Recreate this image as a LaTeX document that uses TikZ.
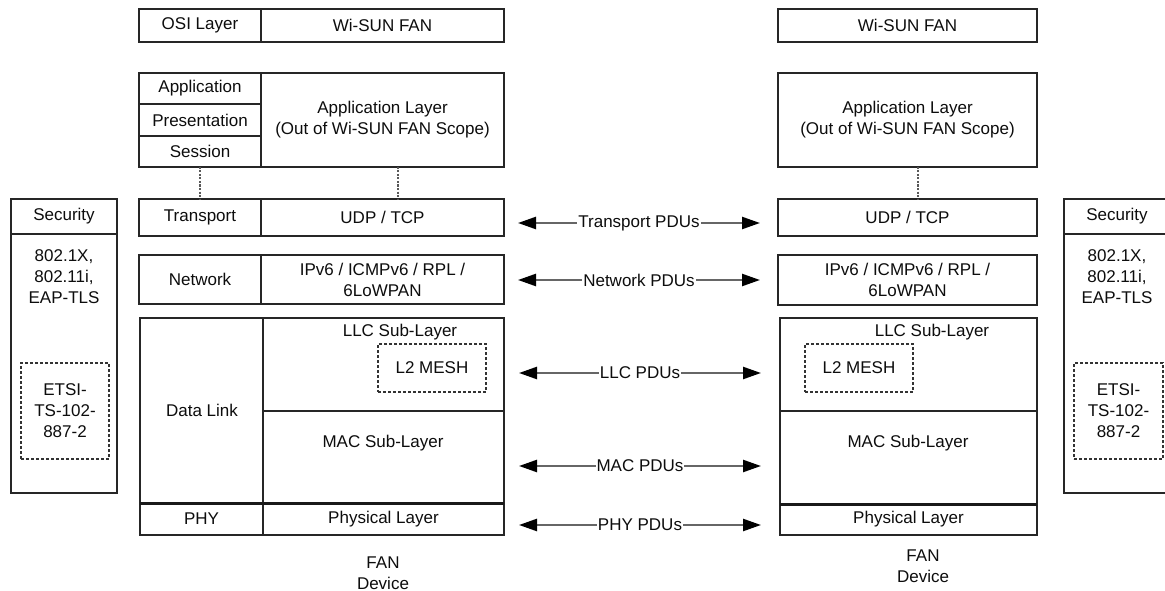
\documentclass[tikz,border=0pt]{standalone}
\usepackage{fontspec}
\setmainfont{Liberation Sans}
\usetikzlibrary{arrows.meta,fit,calc}
\begin{document}
\begin{tikzpicture}[x=1pt,y=-1pt,
  every node/.style={font=\fontsize{17}{21}\selectfont, text=black!95},
  box/.style={draw=black!85, line width=1.6pt, inner sep=0pt, outer sep=0pt},
  dbox/.style={draw=black!80, line width=1.3pt, dash pattern=on 3pt off 2pt, inner sep=0pt, outer sep=0pt},
  txt/.style={align=center, inner sep=0pt},
  lbl/.style={label={[txt]center:{#1}}},
  pdu/.style={draw=black!60, line width=2.4pt, {Triangle[length=18pt,width=12pt,black]}-{Triangle[length=18pt,width=12pt,black]}},
  plabel/.style={fill=white, inner sep=1pt},
  dotline/.style={draw=black!65, line width=1.3pt, dash pattern=on 2pt off 1.5pt},
  thickline/.style={draw=black!90, line width=3pt}
]
\clip (0,0) rectangle (1165,591);
\fill[white] (0,0) rectangle (1165,591);

% ---------- left stack ----------
\node[box, fit={(139,9) (261,42)}, lbl={OSI Layer}] (osi) {};
\node[box, fit={(261,9) (504,42)}, lbl={Wi-SUN FAN}] (wsl) {};
\node[box, fit={(139,73) (261,104)}, lbl={Application}] (appl) {};
\node[box, fit={(139,104) (261,136)}, lbl={Presentation}] (pres) {};
\node[box, fit={(139,136) (261,167)}, lbl={Session}] (sess) {};
\node[box, fit={(261,73) (504,167)}, lbl={Application Layer\\(Out of Wi-SUN FAN Scope)}] (appL) {};
\node[box, fit={(139,199) (261,236)}, lbl={Transport}] (trL) {};
\node[box, fit={(261,199) (504,236)}, lbl={UDP / TCP}] (udpL) {};
\node[box, fit={(139,255) (261,304)}, lbl={Network}] (netL) {};
\node[box, fit={(261,255) (504,304)}, lbl={IPv6 / ICMPv6 / RPL /\\6LoWPAN}] (ipL) {};
\node[box, fit={(140,318) (263,503)}] (dlL) {};
\node[box, fit={(263,318) (504,411)}] (llcL) {};
\node[box, fit={(263,411) (504,503)}] (macL) {};
\node[box, fit={(140,503) (263,535)}, lbl={PHY}] (phyL) {};
\node[box, fit={(263,503) (504,535)}, lbl={Physical Layer}] (physL) {};
\draw[thickline] (dlL.south west) -- (macL.south east);
\node[txt] (dlLt) at (202,410) {Data Link};
\node[txt] (llcLt) at (400,332) {LLC Sub-Layer};
\node[txt] (macLt) at (383,443) {MAC Sub-Layer};
\node[dbox, fit={(378,344) (486,392)}, lbl={L2 MESH}] (meshL) {};
\node[txt] (fanL) at (383,573) {FAN\\Device};

\draw[dotline] (sess.south) -- (trL.north);
\draw[dotline] ($(appL.south west)+(137,0)$) -- ($(udpL.north west)+(137,0)$);

% left security
\node[box, fit={(11,199) (117,234)}, lbl={Security}] (secL) {};
\node[box, fit={(11,234) (117,493)}] (secLb) {};
\node[txt] (secLt) at (64,277) {802.1X,\\802.11i,\\EAP-TLS};
\node[dbox, fit={(21,363) (109,459)}, lbl={ETSI-\\TS-102-\\887-2}] (etsiL) {};

% ---------- right stack ----------
\node[box, fit={(778,9) (1037,42)}, lbl={Wi-SUN FAN}] (wsr) {};
\node[box, fit={(778,73) (1037,167)}, lbl={Application Layer\\(Out of Wi-SUN FAN Scope)}] (appR) {};
\node[box, fit={(778,199) (1037,236)}, lbl={UDP / TCP}] (udpR) {};
\node[box, fit={(778,255) (1037,305)}, lbl={IPv6 / ICMPv6 / RPL /\\6LoWPAN}] (ipR) {};
\node[box, fit={(780,318) (1037,411)}] (llcR) {};
\node[box, fit={(780,411) (1037,504)}] (macR) {};
\node[box, fit={(780,504) (1037,535)}, lbl={Physical Layer}] (physR) {};
\draw[thickline] (macR.south west) -- (macR.south east);
\node[txt] (llcRt) at (932,332) {LLC Sub-Layer};
\node[txt] (macRt) at (908,443) {MAC Sub-Layer};
\node[dbox, fit={(805,344) (913,392)}, lbl={L2 MESH}] (meshR) {};
\node[txt] (fanR) at (923,566) {FAN\\Device};

\draw[dotline] ($(appR.south west)+(140,0)$) -- ($(udpR.north west)+(140,0)$);

% right security
\node[box, fit={(1064,199) (1170,234)}, lbl={Security}] (secR) {};
\node[box, fit={(1064,234) (1170,493)}] (secRb) {};
\node[txt] (secRt) at (1117,277) {802.1X,\\802.11i,\\EAP-TLS};
\node[dbox, fit={(1074,363) (1163,459)}, lbl={ETSI-\\TS-102-\\887-2}] (etsiR) {};

% ---------- PDU arrows ----------
\coordinate (tA) at (518,223); \coordinate (tB) at (760,223);
\coordinate (nA) at (518,280); \coordinate (nB) at (760,280);
\coordinate (lA) at (519,373); \coordinate (lB) at (761,373);
\coordinate (mA) at (519,466); \coordinate (mB) at (761,466);
\coordinate (pA) at (519,525); \coordinate (pB) at (761,525);
\draw[pdu] (tA) -- node[plabel] (tpdu) {Transport PDUs} (tB);
\draw[pdu] (nA) -- node[plabel] (npdu) {Network PDUs} (nB);
\draw[pdu] (lA) -- node[plabel] (lpdu) {LLC PDUs} (lB);
\draw[pdu] (mA) -- node[plabel] (mpdu) {MAC PDUs} (mB);
\draw[pdu] (pA) -- node[plabel] (ppdu) {PHY PDUs} (pB);
\end{tikzpicture}
\end{document}
